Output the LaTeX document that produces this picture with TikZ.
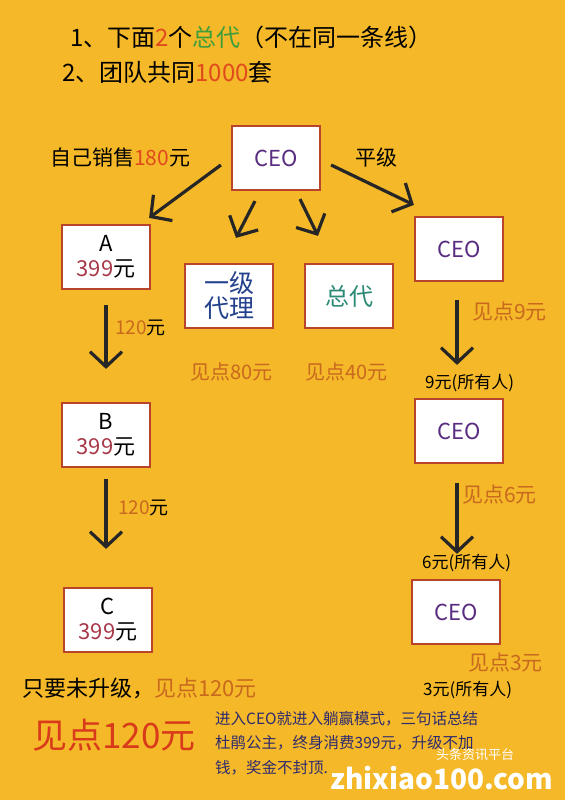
\documentclass[tikz,border=0pt]{standalone}
\usepackage{fontspec}
\setmainfont{Noto Sans CJK SC}
\usetikzlibrary{arrows.meta}

\definecolor{bgyel}{HTML}{F4B829}
\definecolor{boxred}{HTML}{B8452A}
\definecolor{ceopurple}{HTML}{5A2D82}
\definecolor{numred}{HTML}{A83848}
\definecolor{labbrown}{HTML}{C8691E}
\definecolor{hotred}{HTML}{E04A1C}
\definecolor{zdgreen}{HTML}{3F9E3A}
\definecolor{zdteal}{HTML}{2B8A76}
\definecolor{yjblue}{HTML}{22408C}
\definecolor{navytext}{HTML}{2E2A6E}
\definecolor{bigred}{HTML}{D83A1A}

\newcommand{\fsz}[1]{\fontsize{#1}{#1}\selectfont}

\begin{document}
\begin{tikzpicture}[x=1pt, y=-1pt,
    box/.style={draw=boxred, fill=white, line width=2.2pt, minimum width=88pt, minimum height=64pt, inner sep=0pt, align=center},
    arr/.style={line width=3.2pt, black!85, -{Straight Barb[length=15pt, width=32pt]}},
    lab/.style={inner sep=0pt, anchor=west}]

            \fill[bgyel] (0,0) rectangle (565,800);

            % heading
            \node[lab, font=\fsz{24}] (t1) at (70,37) {1、下面\textcolor{hotred}{2}个\textcolor{zdgreen}{总代}（不在同一条线）};
            \node[lab, font=\fsz{24}] (t2) at (62,72) {2、团队共同\textcolor{hotred}{1000}套};

            % boxes
            \node[box, font=\fsz{22}\color{ceopurple}] (ceo) at (276,158) {CEO};
            \node[box, font=\fsz{22}] (A) at (106,257) {A\\[3pt]\textcolor{numred}{399}元};
            \node[box, font=\fsz{25}\color{yjblue}] (yiji) at (229,296) {一级\\代理};
            \node[box, font=\fsz{24}\color{zdteal}] (zong) at (349,296) {总代};
            \node[box, font=\fsz{22}\color{ceopurple}] (ceoa) at (459,249) {CEO};
            \node[box, font=\fsz{22}] (B) at (106,435) {B\\[3pt]\textcolor{numred}{399}元};
            \node[box, font=\fsz{22}\color{ceopurple}] (ceob) at (459,431) {CEO};
            \node[box, font=\fsz{22}] (C) at (108,620) {C\\[3pt]\textcolor{numred}{399}元};
            \node[box, font=\fsz{22}\color{ceopurple}] (ceoc) at (456,612) {CEO};

            % arrows
            \draw[arr] ([shift={(-10,7)}]ceo.west) -- ([shift={(-2,-6)}]A.north east);
            \draw[arr] ([shift={(-21,10)}]ceo.south) -- ([shift={(7,-25)}]yiji.north);
            \draw[arr] ([shift={(24,8)}]ceo.south) -- ([shift={(-31,-27)}]zong.north);
            \draw[arr] ([shift={(10,7)}]ceo.east) -- ([shift={(0,-11)}]ceoa.north west);
            \draw[arr] ([shift={(0,15)}]A.south) -- ([shift={(0,-33)}]B.north);
            \draw[arr] ([shift={(0,11)}]B.south) -- ([shift={(-2,-38)}]C.north);
            \draw[arr] ([shift={(-2,18)}]ceoa.south) -- ([shift={(-2,-33)}]ceob.north);
            \draw[arr] ([shift={(-2,19)}]ceob.south) -- ([shift={(1,-25)}]ceoc.north);

            % labels
            \node[lab, font=\fsz{21}] (sell) at (50,158) {自己销售\textcolor{hotred}{180}元};
            \node[lab, font=\fsz{21}] (ping) at (355,158) {平级};
            \node[lab, font=\fsz{20}\color{labbrown}] (jd80) at (190,372) {见点80元};
            \node[lab, font=\fsz{20}\color{labbrown}] (jd40) at (305,372) {见点40元};
            \node[lab, font=\fsz{19}] (ab) at (115,328) {\textcolor{labbrown}{120}元};
            \node[lab, font=\fsz{19}] (bc) at (118,508) {\textcolor{labbrown}{120}元};
            \node[lab, font=\fsz{21}\color{labbrown}] (jd9) at (472,312) {见点9元};
            \node[lab, font=\fsz{17}] (all9) at (425,383) {9元(所有人)};
            \node[lab, font=\fsz{21}\color{labbrown}] (jd6) at (462,495) {见点6元};
            \node[lab, font=\fsz{17}] (all6) at (422,563) {6元(所有人)};
            \node[lab, font=\fsz{21}\color{labbrown}] (jd3) at (468,663) {见点3元};
            \node[lab, font=\fsz{17}] (all3) at (423,690) {3元(所有人)};

            % bottom notes
            \node[lab, font=\fsz{22}] (keep) at (22,688) {只要未升级，\textcolor{labbrown}{见点120元}};
            \node[lab, font=\fsz{35}\color{bigred}] (big) at (32,735) {见点120元};
            \node[lab, font=\fsz{15.5}\color{navytext}, align=left, anchor=north west] (note) at (215,711) {进入CEO就进入躺赢模式，三句话总结\\[9pt]杜鹃公主，终身消费399元，升级不加\\[9pt]钱，奖金不封顶.};

            % watermark
            \node[lab, font=\fsz{13}\color{white}] (wm1) at (436,755) {头条资讯平台};
            \node[lab, font=\bfseries\fsz{28}\color{white}] (wm2) at (330,778) {zhixiao100.com};
          \end{tikzpicture}
\end{document}
